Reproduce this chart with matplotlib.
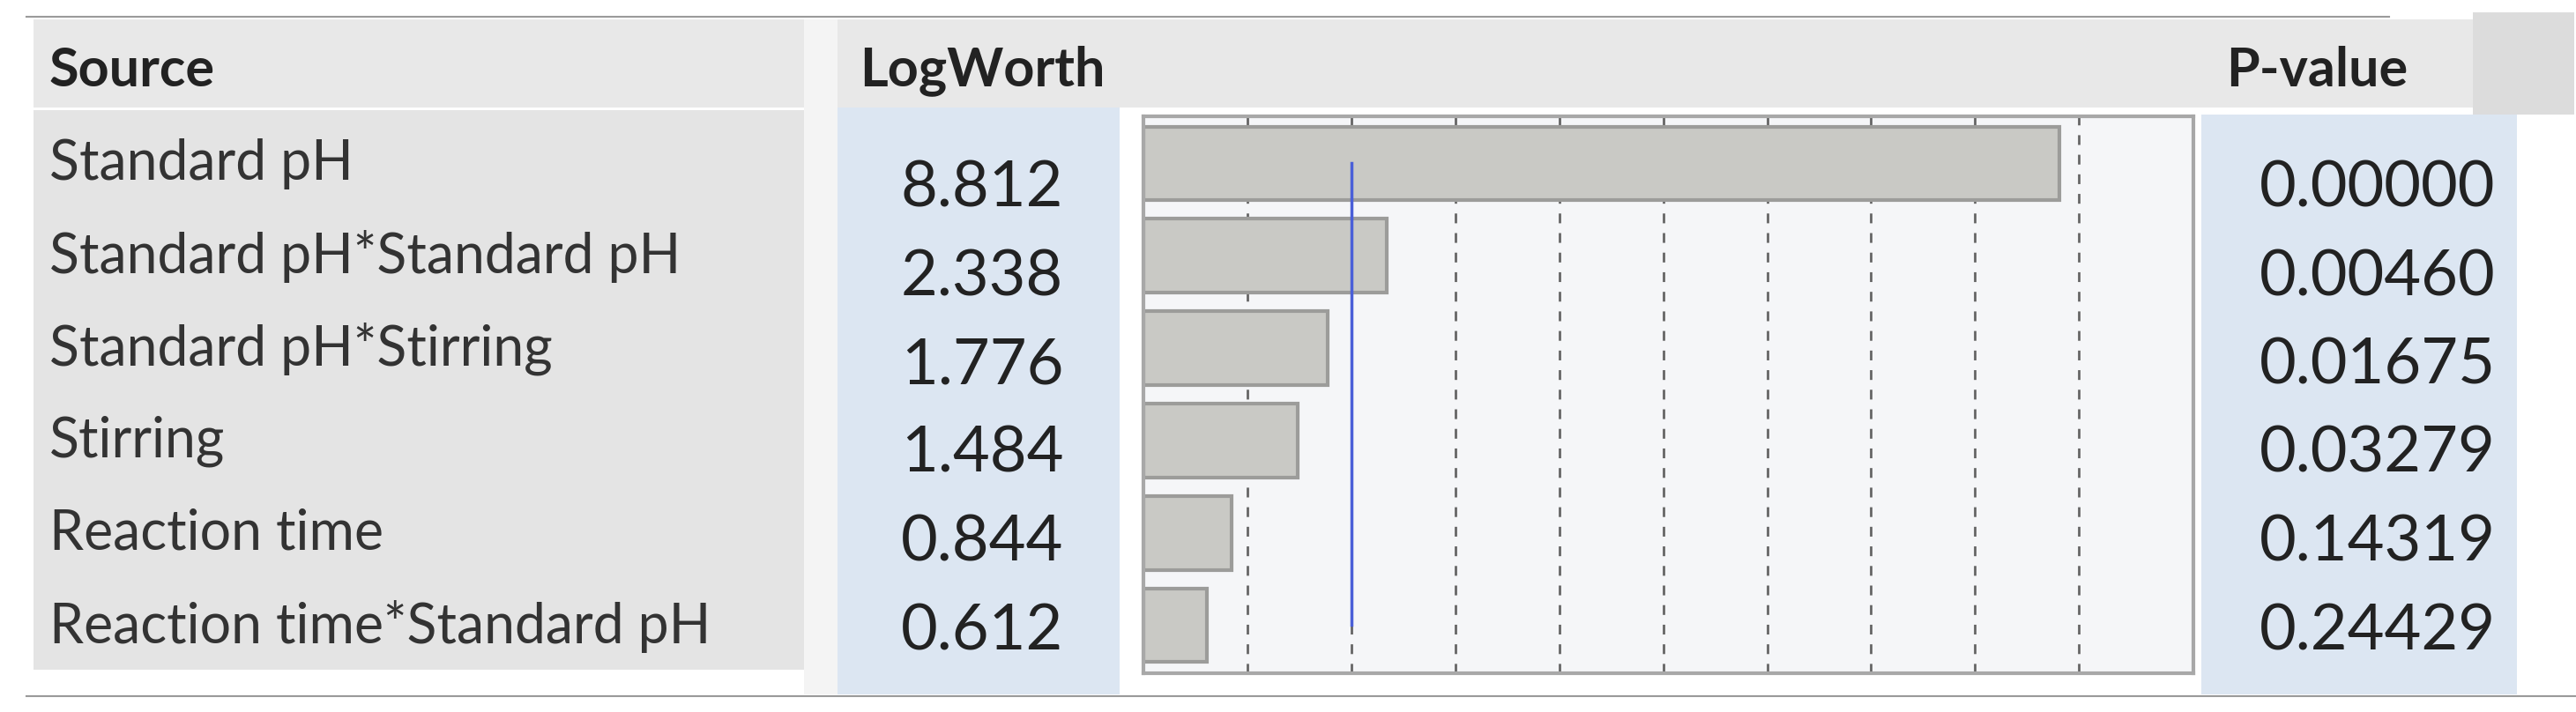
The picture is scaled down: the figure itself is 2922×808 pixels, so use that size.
import matplotlib
matplotlib.use("Agg")
import matplotlib.pyplot as plt
from matplotlib.patches import Rectangle

sources = ["Standard pH", "Standard pH*Standard pH", "Standard pH*Stirring",
           "Stirring", "Reaction time", "Reaction time*Standard pH"]
logworth = [8.812, 2.338, 1.776, 1.484, 0.844, 0.612]
pvalues = ["0.00000", "0.00460", "0.01675", "0.03279", "0.14319", "0.24429"]
grid_ticks = [1, 2, 3, 4, 5, 6, 7, 8, 9]
ref_line = 2

W, H = 2922, 808
fig = plt.figure(figsize=(W / 100, H / 100), dpi=100)
fig.patch.set_facecolor("white")
FONT = ["Lato", "DejaVu Sans"]

bg = fig.add_axes([0, 0, 1, 1])
bg.set_xlim(0, W); bg.set_ylim(H, 0); bg.axis("off")
def rect(x0, y0, x1, y1, c, **kw):
    bg.add_patch(Rectangle((x0, y0), x1 - x0, y1 - y0, facecolor=c, edgecolor="none", **kw))
bg.plot([30, 2710], [19, 19], color="#9a9a9a", lw=1.5)
bg.plot([30, 2922], [790, 790], color="#9a9a9a", lw=1.5)
rect(38, 22, 2890, 122, "#e8e8e8")
rect(2805, 14, 2920, 130, "#dcdcdc")
rect(38, 125, 912, 760, "#e4e4e4")
rect(950, 122, 1270, 788, "#dce6f2")
rect(2497, 130, 2855, 788, "#dce6f2")
rect(912, 22, 950, 788, "#f4f4f4")

n = len(sources)
name_y0, name_step = 186, 105
num_y0, num_step = 214, 100.5
for i in range(n):
    bg.text(56, name_y0 + i * name_step, sources[i], fontsize=45, family=FONT,
            va="center", ha="left", color="#333333")
    bg.text(1114, num_y0 + i * num_step, f"{logworth[i]:.3f}", fontsize=52, family=FONT,
            va="center", ha="center", color="#222222")
    bg.text(2697, num_y0 + i * num_step, pvalues[i], fontsize=52, family=FONT,
            va="center", ha="center", color="#222222")
bg.text(56, 80, "Source", fontsize=44, family=FONT, weight="bold", va="center", color="#222222")
bg.text(1114, 80, "LogWorth", fontsize=44, family=FONT, weight="bold", va="center", ha="center", color="#222222")
bg.text(2628, 80, "P-value", fontsize=44, family=FONT, weight="bold", va="center", ha="center", color="#222222")

ax = fig.add_axes([1297 / W, 1 - 764 / H, (2488 - 1297) / W, (764 - 132) / H])
ax.set_facecolor("#f5f6f8")
ax.set_xlim(0, 10.1)
ax.set_ylim(n - 0.48, -0.51)
for t in grid_ticks:
    ax.axvline(t, color="#666666", lw=2, ls=(0, (4, 4)), zorder=1)
ax.barh(range(n), logworth, height=0.8, color="#c9c9c5", edgecolor="#9c9c9a", lw=3, zorder=2)
ax.plot([ref_line, ref_line], [0, n - 1], color="#4a5fd8", lw=2.5, zorder=3)
ax.set_xticks([]); ax.set_yticks([])
for s in ax.spines.values():
    s.set_color("#a8a8a8"); s.set_linewidth(3)

fig.savefig("out.png", dpi=100)
